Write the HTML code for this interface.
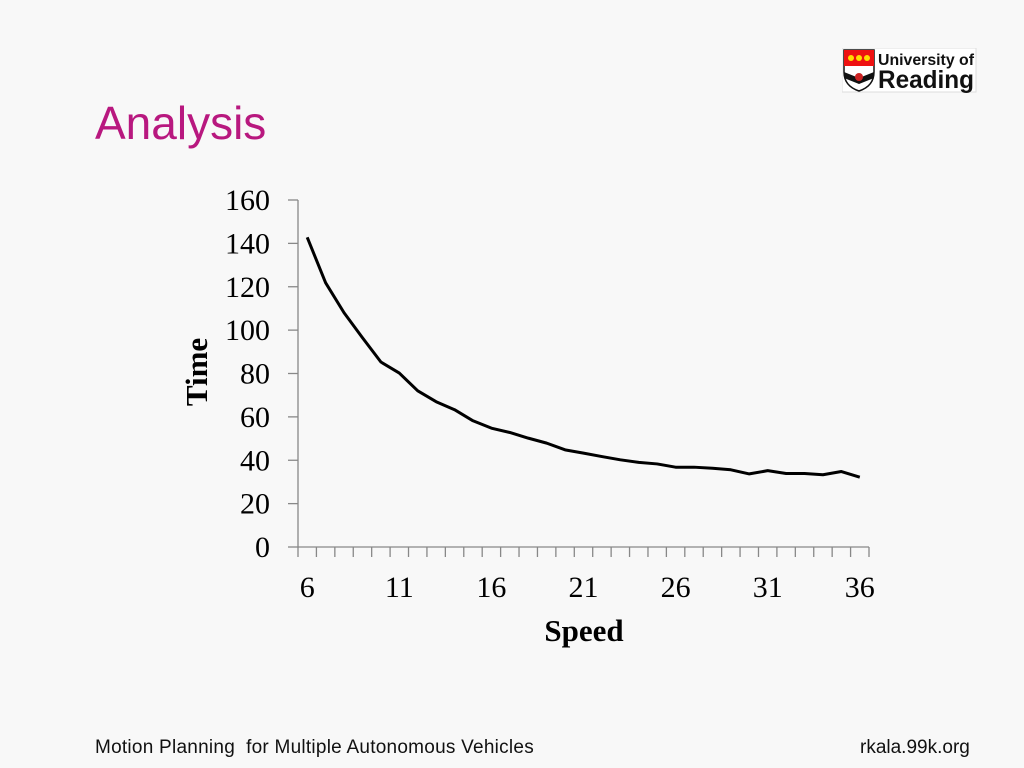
<!DOCTYPE html>
<html><head><meta charset="utf-8"><style>
body{margin:0;width:1024px;height:768px;background:#f8f8f8;overflow:hidden;font-family:"Liberation Sans",sans-serif;position:relative}
.t{position:absolute;white-space:nowrap}
</style></head><body>
<div class="t" style="left:95px;top:96px;font-size:46px;color:#b8187f">Analysis</div>
<svg style="position:absolute;left:842px;top:48px" width="136" height="46">
<rect x="0" y="0" width="134" height="44" fill="#fff" stroke="#ddd"/>
<path d="M2 2 H32 V24 Q32 38 17 43 Q2 38 2 24 Z" fill="#fff" stroke="#111" stroke-width="1.5"/>
<rect x="2" y="2" width="30" height="16" fill="#e11"/>
<circle cx="9" cy="10" r="3" fill="#fd0"/><circle cx="17" cy="10" r="3" fill="#fd0"/><circle cx="25" cy="10" r="3" fill="#fd0"/>
<path d="M2 24 L17 30 L32 24 V30 L17 36 L2 30Z" fill="#111"/>
<circle cx="17" cy="29" r="4" fill="#c22"/>
<text x="36" y="17" font-size="16" font-weight="bold" fill="#111" textLength="96" lengthAdjust="spacingAndGlyphs">University of</text>
<text x="36" y="40" font-size="25" font-weight="bold" fill="#111" textLength="96" lengthAdjust="spacingAndGlyphs">Reading</text>
</svg>
<svg id="chart" style="position:absolute;left:0;top:0" width="1024" height="768"></svg>
<div class="t" style="left:95px;top:737px;font-size:19px;letter-spacing:0.25px;color:#111">Motion Planning&nbsp; for Multiple Autonomous Vehicles</div>
<div class="t" style="left:860px;top:737px;font-size:19px;color:#111">rkala.99k.org</div>
<script>
const speeds=[6,7,8,9,10,11,12,13,14,15,16,17,18,19,20,21,22,23,24,25,26,27,28,29,30,31,32,33,34,35,36];
const times=[142.8,121.8,108,96.5,85.3,80.2,72,67,63.3,58.2,54.8,52.8,50.2,47.9,44.8,43.3,41.7,40.2,39,38.3,36.8,36.8,36.3,35.6,33.7,35.2,33.9,33.9,33.3,34.8,32.2];
const yTicks=[0,20,40,60,80,100,120,140,160];
const xLabels=[6,11,16,21,26,31,36];
const svg=document.getElementById('chart');const NS='http://www.w3.org/2000/svg';
const X0=298,X1=869,Y0=547,Y1=200,band=(X1-X0)/speeds.length;
const yS=v=>Y0-(v-0)/(160-0)*(Y0-Y1);
const xS=s=>X0+band*(speeds.indexOf(s)+0.5);
function mk(t,a){const e=document.createElementNS(NS,t);for(const k in a)e.setAttribute(k,a[k]);svg.appendChild(e);return e;}
let e=mk('line',{x1:X0,y1:Y1,x2:X0,y2:Y0,stroke:'#888','stroke-width':1.3});


e=mk('line',{x1:X0,y1:Y0,x2:X1,y2:Y0,stroke:'#888','stroke-width':1.3});


yTicks.forEach(v=>{const y=yS(v);
e=mk('line',{x1:X0-10,y1:y,x2:X0,y2:y,stroke:'#888','stroke-width':1.3});


e=mk('text',{x:270,y:y+10,'text-anchor':'end','font-size':30,'font-family':'Liberation Serif, serif',fill:'#000'});e.textContent=v;

});
for(let k=0;k<=speeds.length;k++){const x=X0+band*k;
e=mk('line',{x1:x,y1:Y0,x2:x,y2:Y0+10,stroke:'#888','stroke-width':1.3});

}
xLabels.forEach(s=>{e=mk('text',{x:xS(s),y:597,'text-anchor':'middle','font-size':30,'font-family':'Liberation Serif, serif',fill:'#000'});e.textContent=s;

});
e=mk('polyline',{points:speeds.map((s,i)=>xS(s)+','+yS(times[i])).join(' '),fill:'none',stroke:'#000','stroke-width':3,'stroke-linejoin':'round'});


e=mk('text',{x:584,y:641,'text-anchor':'middle','font-size':31,'font-weight':'bold','font-family':'Liberation Serif, serif',fill:'#000'});e.textContent='Speed';


e=mk('text',{x:207,y:372,'text-anchor':'middle','font-size':31,'font-weight':'bold','font-family':'Liberation Serif, serif',fill:'#000',transform:'rotate(-90 207 372)'});e.textContent='Time';


</script>
</body></html>
